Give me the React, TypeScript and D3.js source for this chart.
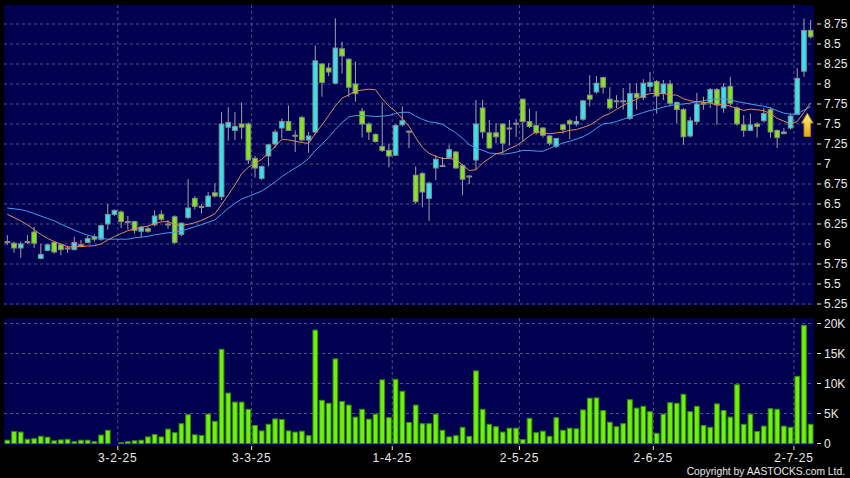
import React from "react";
import * as d3 from "d3";

const W = 850;
const H = 478;

// trading days shown (day-of-month per month, 2025)
const janDays = [6, 7, 8, 9, 10, 13, 14, 15, 16, 17, 20, 21, 22, 23, 24, 27, 28];
const febDays = [3, 4, 5, 6, 7, 10, 11, 12, 13, 14, 17, 18, 19, 20, 21, 24, 25, 26, 27, 28];
const marDays = [3, 4, 5, 6, 7, 10, 11, 12, 13, 14, 17, 18, 19, 20, 21, 24, 25, 26, 27, 28, 31];
const aprDays = [1, 2, 3, 7, 8, 9, 10, 11, 14, 15, 16, 17, 22, 23, 24, 25, 28, 29, 30];
const mayDays = [2, 6, 7, 8, 9, 12, 13, 14, 15, 16, 19, 20, 21, 22, 23, 26, 27, 28, 29, 30];
const junDays = [2, 3, 4, 5, 6, 9, 10, 11, 12, 13, 16, 17, 18, 19, 20, 23, 24, 25, 26, 27, 30];
const julDays = [2, 3, 4];
const monthNums = [1, 2, 3, 4, 5, 6, 7];
const dayLists = [janDays, febDays, marDays, aprDays, mayDays, junDays, julDays];

const opens = [
  6.03, 6.01, 5.95, 6.02, 6.15, 5.82, 5.92, 6.02, 5.99, 5.95,
  5.93, 5.97, 6.02, 6.09, 6.06, 6.25, 6.37, 6.40, 6.28, 6.28,
  6.16, 6.19, 6.24, 6.37, 6.25, 6.34, 6.12, 6.33, 6.57, 6.47,
  6.47, 6.64, 6.59, 7.46, 7.42, 7.50, 7.50, 7.07, 6.82, 7.10,
  7.25, 7.45, 7.53, 7.36, 7.58, 7.30, 7.40, 8.25, 8.20, 8.01,
  8.44, 8.31, 8.00, 7.66, 7.50, 7.37, 7.22, 7.17, 7.11, 7.49,
  7.41, 6.86, 6.88, 6.57, 6.95, 6.98, 7.08, 7.15, 6.98, 6.85,
  7.05, 7.70, 7.39, 7.39, 7.50, 7.45, 7.51, 7.81, 7.53, 7.48,
  7.45, 7.35, 7.22, 7.49, 7.54, 7.50, 7.56, 7.86, 7.90, 8.08,
  7.81, 7.79, 7.79, 7.57, 7.88, 7.83, 7.97, 8.03, 7.88, 8.00,
  7.77, 7.68, 7.35, 7.53, 7.76, 7.77, 7.93, 7.70, 7.97, 7.70,
  7.49, 7.42, 7.50, 7.54, 7.68, 7.42, 7.38, 7.45, 7.62, 8.16,
  8.67,
];
const highs = [
  6.11, 6.03, 6.03, 6.11, 6.21, 6.00, 6.00, 6.03, 6.00, 5.98,
  6.09, 6.05, 6.10, 6.12, 6.24, 6.50, 6.43, 6.42, 6.35, 6.29,
  6.23, 6.22, 6.42, 6.42, 6.30, 6.36, 6.27, 6.81, 6.60, 6.50,
  6.65, 6.76, 7.65, 7.71, 7.65, 7.77, 7.52, 7.10, 6.98, 7.25,
  7.43, 7.57, 7.73, 7.42, 7.60, 7.40, 8.48, 8.26, 8.26, 8.82,
  8.53, 8.32, 8.28, 7.70, 7.52, 7.38, 7.77, 7.25, 7.50, 7.72,
  7.42, 6.97, 6.90, 6.78, 7.11, 7.09, 7.24, 7.16, 7.00, 6.86,
  7.80, 7.80, 7.55, 7.51, 7.51, 7.55, 7.56, 7.82, 7.69, 7.66,
  7.46, 7.36, 7.32, 7.50, 7.56, 7.60, 7.80, 8.11, 8.10, 8.09,
  7.96, 7.86, 7.95, 8.01, 8.01, 8.06, 8.15, 8.05, 8.05, 8.05,
  7.78, 7.70, 7.59, 7.89, 7.84, 7.95, 7.95, 8.01, 8.09, 7.72,
  7.61, 7.63, 7.52, 7.70, 7.71, 7.43, 7.45, 7.63, 8.20, 8.82,
  8.80,
];
const lows = [
  5.99, 5.89, 5.83, 6.00, 5.95, 5.81, 5.91, 5.88, 5.86, 5.89,
  5.92, 5.96, 6.01, 6.03, 6.04, 6.18, 6.35, 6.20, 6.18, 6.13,
  6.08, 6.14, 6.22, 6.29, 6.19, 6.00, 6.10, 6.31, 6.43, 6.38,
  6.46, 6.58, 6.55, 7.29, 7.30, 7.31, 7.00, 6.83, 6.80, 6.97,
  7.20, 7.32, 7.42, 7.15, 7.28, 7.14, 7.37, 7.84, 8.10, 8.00,
  8.13, 7.84, 7.78, 7.33, 7.30, 7.27, 7.15, 6.96, 7.10, 7.47,
  7.20, 6.50, 6.46, 6.29, 6.80, 6.97, 7.06, 6.94, 6.61, 6.75,
  6.93, 7.32, 7.19, 7.26, 7.13, 7.23, 7.34, 7.28, 7.45, 7.37,
  7.33, 7.23, 7.20, 7.38, 7.31, 7.47, 7.54, 7.72, 7.88, 7.88,
  7.68, 7.70, 7.68, 7.55, 7.68, 7.80, 7.90, 7.63, 7.80, 7.72,
  7.51, 7.24, 7.33, 7.49, 7.68, 7.70, 7.49, 7.64, 7.73, 7.48,
  7.34, 7.41, 7.33, 7.52, 7.33, 7.20, 7.37, 7.43, 7.61, 8.09,
  8.57,
];
const closes = [
  6.02, 5.95, 6.00, 6.03, 6.01, 5.87, 5.99, 5.90, 5.93, 5.94,
  6.02, 5.99, 6.07, 6.06, 6.23, 6.37, 6.42, 6.28, 6.28, 6.17,
  6.21, 6.16, 6.35, 6.31, 6.25, 6.02, 6.26, 6.45, 6.47, 6.47,
  6.60, 6.60, 7.50, 7.52, 7.47, 7.46, 7.05, 6.95, 6.97, 7.24,
  7.40, 7.53, 7.42, 7.36, 7.30, 7.35, 8.29, 8.02, 8.15, 8.45,
  8.35, 7.96, 7.88, 7.50, 7.40, 7.28, 7.17, 7.10, 7.48, 7.54,
  7.41, 6.53, 6.65, 6.76, 7.06, 6.98, 7.18, 6.95, 6.81, 6.85,
  7.50, 7.40, 7.20, 7.34, 7.26, 7.45, 7.51, 7.53, 7.47, 7.39,
  7.36, 7.26, 7.32, 7.43, 7.50, 7.53, 7.79, 7.81, 8.01, 7.96,
  7.70, 7.79, 7.79, 7.88, 7.83, 8.01, 8.02, 7.85, 8.00, 7.76,
  7.68, 7.34, 7.54, 7.75, 7.76, 7.93, 7.74, 7.96, 7.76, 7.50,
  7.42, 7.49, 7.47, 7.63, 7.40, 7.33, 7.40, 7.60, 8.07, 8.67,
  8.59,
];
// volume in thousands
const volumes = [
  0.55, 2.0, 1.9, 0.7, 0.8, 1.2, 1.05, 0.45, 0.6, 0.7,
  0.3, 0.55, 0.55, 0.3, 1.4, 2.2, 0, 0.15, 0.3, 0.45,
  0.55, 1.1, 1.5, 1.1, 2.4, 1.8, 3.3, 4.8, 1.45, 1.35,
  4.9, 3.7, 15.7, 8.4, 6.9, 6.9, 5.7, 3.0, 2.1, 3.2,
  4.1, 4.0, 2.1, 1.9, 2.05, 1.3, 18.9, 7.2, 6.7, 14.1,
  7.0, 6.4, 4.4, 5.7, 4.05, 4.9, 10.6, 4.3, 10.7, 8.7,
  3.5, 6.4, 3.3, 3.3, 4.9, 2.2, 1.1, 1.3, 2.7, 1.2,
  12.1, 5.7, 3.2, 2.8, 1.9, 2.55, 2.55, 0.65, 4.2, 1.8,
  2.05, 1.2, 4.3, 2.2, 2.55, 2.45, 5.6, 7.55, 7.6, 5.5,
  3.55, 2.8, 3.3, 7.3, 5.9, 6.2, 5.3, 1.7, 4.9, 6.8,
  6.7, 8.2, 5.3, 6.2, 3.0, 2.7, 6.6, 5.5, 4.4, 9.8,
  3.2, 4.9, 2.0, 2.9, 5.8, 5.7, 2.9, 2.7, 11.2, 19.7,
  3.2,
];
// moving-average values before a full window exists
const ma10Lead = [6.37, 6.33, 6.29, 6.24, 6.18, 6.12, 6.07, 6.03, 6.0];
const ma20Lead = [6.45, 6.44, 6.43, 6.41, 6.38, 6.35, 6.32, 6.29, 6.25, 6.21, 6.175, 6.14, 6.11, 6.09, 6.07, 6.06, 6.06, 6.06, 6.06];

const priceTicks = [5.25, 5.5, 5.75, 6, 6.25, 6.5, 6.75, 7, 7.25, 7.5, 7.75, 8, 8.25, 8.5, 8.75];
const volTicks = [0, 5, 10, 15, 20];
const signalPrice = 7.49;

const BG = "#000000";
const PANEL = "#000050";
const GRID = "#50508a";
const UP = "#35e3ef";
const DOWN = "#84e41e";
const BODY_STROKE = "#8a8a8a";
const WICK = "#a0a0a0";
const VOL_FILL = "#6cf20f";
const VOL_STROKE = "#3a8a05";
const MA10_C = "#e08a5c";
const MA20_C = "#3f9fe8";
const TEXT = "#e8e8e8";
const FONT = "'Liberation Sans', Arial, sans-serif";

const PL = 4, PR = 814;
const PT = 5, PB = 305;
const VT = 318, VB = 445;

export default function App() {
  const n = closes.length;
  const dates = dayLists.flatMap((days, k) => days.map((d) => `${d}-${monthNums[k]}-25`));

  const x = d3.scaleBand<number>().domain(d3.range(n)).range([PL, PR]).paddingInner(0.3).paddingOuter(0.15);
  const step = x.step();
  const bw = x.bandwidth();
  const cx = (i: number) => (x(i) as number) + bw / 2;

  const y = d3.scaleLinear().domain([5.25, 9.0]).range([304, 4]);
  const yv = d3.scaleLinear().domain([0, 20]).range([443.5, 323.5]);

  const sma = (period: number, lead: number[]) =>
    closes.map((_, i) => (i < period - 1 ? lead[i] : (d3.mean(closes.slice(i - period + 1, i + 1)) as number)));
  const ma10 = sma(10, ma10Lead);
  const ma20 = sma(20, ma20Lead);
  const line = d3.line<number>().x((_, i) => cx(i)).y((v) => y(v));

  const monthTicks = dayLists.slice(1).map((days, k) => {
    const label = `${days[0]}-${monthNums[k + 1]}-25`;
    const idx = dates.indexOf(label);
    return { label, xPos: cx(idx) - step / 2 };
  });

  const ax = cx(n - 1) - step / 2;
  const ay = y(signalPrice);
  const arrowPath = `M${ax},${ay - 11.7} L${ax + 5.8},${ay - 1.7} L${ax + 3.3},${ay - 1.7} L${ax + 3.3},${ay + 11.7} L${ax - 3.3},${ay + 11.7} L${ax - 3.3},${ay - 1.7} L${ax - 5.8},${ay - 1.7} Z`;

  return (
    <div>
      <style>{"body{margin:0;background:#000}"}</style>
      <svg width={W} height={H} style={{ display: "block", background: BG }}>
        <defs>
          <linearGradient id="arrowGrad" x1="0" y1="0" x2="0" y2="1">
            <stop offset="0%" stopColor="#fff27a" />
            <stop offset="100%" stopColor="#e9a316" />
          </linearGradient>
          <clipPath id="priceClip">
            <rect x={PL} y={PT} width={PR - PL} height={PB - PT} />
          </clipPath>
        </defs>
        <rect x={0} y={0} width={W} height={H} fill={BG} />
        <rect x={PL} y={PT} width={PR - PL} height={PB - PT} fill={PANEL} />
        <rect x={PL} y={VT} width={PR - PL} height={VB - VT} fill={PANEL} />

        {/* price grid */}
        {priceTicks.map((t) => (
          <line key={"pg" + t} x1={PL} x2={PR} y1={y(t)} y2={y(t)} stroke={GRID} strokeDasharray="3,3" strokeWidth={1} />
        ))}
        {volTicks.filter((t) => t > 0).map((t) => (
          <line key={"vg" + t} x1={PL} x2={PR} y1={yv(t)} y2={yv(t)} stroke={GRID} strokeDasharray="3,3" strokeWidth={1} />
        ))}
        {monthTicks.map((m) => (
          <g key={"mg" + m.label}>
            <line x1={m.xPos} x2={m.xPos} y1={PT} y2={PB} stroke={GRID} strokeDasharray="3,3" />
            <line x1={m.xPos} x2={m.xPos} y1={VT} y2={VB} stroke={GRID} strokeDasharray="3,3" />
          </g>
        ))}

        {/* candles */}
        <g clipPath="url(#priceClip)">
          {closes.map((c, i) => {
            const o = opens[i];
            const top = y(Math.max(o, c));
            const hgt = Math.max(1, Math.abs(y(o) - y(c)));
            const doji = Math.abs(o - c) < 0.005;
            const fill = doji ? WICK : c > o ? UP : DOWN;
            return (
              <g key={"c" + i}>
                <line x1={cx(i)} x2={cx(i)} y1={y(highs[i])} y2={y(lows[i])} stroke={WICK} strokeWidth={1} />
                <rect x={x(i)} y={top} width={bw} height={hgt} fill={fill} stroke={BODY_STROKE} strokeWidth={1} />
              </g>
            );
          })}
          <path d={line(ma20) || ""} fill="none" stroke={MA20_C} strokeWidth={1} />
          <path d={line(ma10) || ""} fill="none" stroke={MA10_C} strokeWidth={1} />
          <path d={arrowPath} fill="url(#arrowGrad)" stroke="#b07a08" strokeWidth={1} />
        </g>

        {/* volume */}
        {volumes.map((v, i) => (
          <rect key={"v" + i} x={x(i)} y={yv(v)} width={bw} height={Math.max(0, yv(0) - yv(v))} fill={VOL_FILL} stroke={VOL_STROKE} strokeWidth={1} />
        ))}

        {/* right axes */}
        {priceTicks.map((t) => (
          <g key={"pl" + t}>
            <line x1={817} x2={821} y1={y(t)} y2={y(t)} stroke={TEXT} />
            <text x={824} y={y(t)} dy="0.36em" fill={TEXT} fontSize={12} fontFamily={FONT}>{String(t)}</text>
          </g>
        ))}
        {volTicks.map((t) => (
          <g key={"vl" + t}>
            <line x1={817} x2={821} y1={yv(t)} y2={yv(t)} stroke={TEXT} />
            <text x={824} y={yv(t)} dy="0.36em" fill={TEXT} fontSize={12} fontFamily={FONT}>{t === 0 ? "0" : `${t}K`}</text>
          </g>
        ))}

        {/* date axis */}
        {monthTicks.map((m) => (
          <g key={"ml" + m.label}>
            <line x1={m.xPos} x2={m.xPos} y1={446} y2={450} stroke={TEXT} />
            <text x={m.xPos} y={462} textAnchor="middle" fill={TEXT} fontSize={12} letterSpacing={0.8} fontFamily={FONT}>{m.label}</text>
          </g>
        ))}
        <text x={845} y={475} textAnchor="end" fill={TEXT} fontSize={10.3} fontFamily={FONT}>Copyright by AASTOCKS.com Ltd.</text>
      </svg>
    </div>
  );
}
